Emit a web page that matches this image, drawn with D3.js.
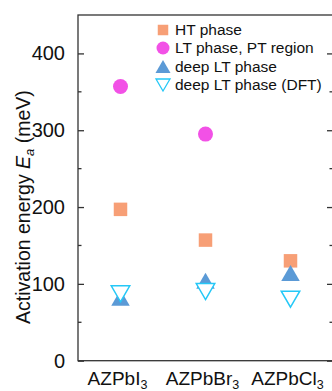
<!DOCTYPE html>
<meta charset="utf-8">
<script src="https://d3js.org/d3.v7.min.js"></script>
<style>
  body { margin: 0; background: #fff; }
  text { font-family: "Liberation Sans", Arial, sans-serif; fill: #111; }
</style>
<div id="my_dataviz"></div>
<script>

    // data
    var compounds = ["AZPbI", "AZPbBr", "AZPbCl"];
    var htPhase = [197, 157, 130];
    var ltPhase = [357, 295, null];
    var deepLT = [82, 104, 114];
    var deepLTdft = [87, 90, 80];
    var yTicks = [0, 100, 200, 300, 400];
    var legendLabels = ["HT phase", "LT phase, PT region", "deep LT phase", "deep LT phase (DFT)"];

    var colors = { ht: "#f79f76", lt: "#f251e6", deep: "#5b9ad6", dft: "#25c8f7" };

    var W = 332, H = 391;
    var margin = { top: 15, right: -1, bottom: 30, left: 78 };

    var svg = d3.select("#my_dataviz")
        .append("svg")
        .attr("width", W)
        .attr("height", H);

    var x = d3.scalePoint()
        .domain(compounds)
        .range([margin.left, W - margin.right])
        .padding(0.5);

    var y = d3.scaleLinear()
        .domain([0, 450])
        .range([H - margin.bottom - 0.3, margin.top]);

    var axisColor = "#333";

    // frame
    svg.append("rect")
        .attr("x", margin.left)
        .attr("y", margin.top)
        .attr("width", W - margin.right - margin.left)
        .attr("height", y(0) - margin.top)
        .attr("fill", "none")
        .attr("stroke", axisColor)
        .attr("stroke-width", 1.3);

    // left axis, ticks inward
    var minor = d3.range(50, 450, 100);
    var yAxisL = svg.append("g").attr("transform", "translate(" + margin.left + ",0)");
    yAxisL.call(d3.axisLeft(y).tickValues(yTicks).tickSize(-6).tickPadding(13))
    yAxisL.select(".domain").remove();
    yAxisL.selectAll("line").attr("stroke", axisColor).attr("stroke-width", 1.3);
    yAxisL.selectAll("text").style("font-size", "20px").attr("fill", "#111");
    yAxisL.append("g").selectAll("line").data(minor).enter().append("line")
        .attr("x1", 0).attr("x2", 3.5)
        .attr("y1", function (d) { return y(d); })
        .attr("y2", function (d) { return y(d); })
        .attr("stroke", axisColor).attr("stroke-width", 1.3);

    // right axis, ticks inward
    var xr = W - margin.right;
    var yAxisR = svg.append("g").attr("transform", "translate(" + xr + ",0)");
    yAxisR.call(d3.axisRight(y).tickValues(yTicks).tickSize(-6).tickFormat(""));
    yAxisR.select(".domain").remove();
    yAxisR.selectAll("line").attr("stroke", axisColor).attr("stroke-width", 1.3);
    yAxisR.append("g").selectAll("line").data(minor).enter().append("line")
        .attr("x1", 0).attr("x2", -3.5)
        .attr("y1", function (d) { return y(d); })
        .attr("y2", function (d) { return y(d); })
        .attr("stroke", axisColor).attr("stroke-width", 1.3);

    // x labels with subscript 3
    var xl = svg.append("g").selectAll("text").data(compounds).enter().append("text")
        .attr("x", function (d) { return x(d) - 3; })
        .attr("y", 384.5)
        .attr("text-anchor", "middle")
        .style("font-size", "19px");
    xl.append("tspan").text(function (d) { return d; });
    xl.append("tspan").attr("dy", 4).style("font-size", "12.5px").text("3");

    // y title
    var yt = svg.append("text")
        .attr("transform", "translate(30," + ((y(0) + y(400)) / 2) + ") rotate(-90)")
        .attr("text-anchor", "middle")
        .style("font-size", "19.5px");
    yt.append("tspan").text("Activation energy ");
    yt.append("tspan").style("font-style", "italic").text("E");
    yt.append("tspan").attr("dy", 4).style("font-size", "13px").style("font-style", "italic").text("a");
    yt.append("tspan").attr("dy", -4).text(" (meV)");

    // marker shapes
    function square(s) { return "M" + (-s / 2) + "," + (-s / 2) + "h" + s + "v" + s + "h" + (-s) + "Z"; }
    function triUp(w, h) { return "M0," + (-h / 2) + "L" + (w / 2) + "," + (h / 2) + "L" + (-w / 2) + "," + (h / 2) + "Z"; }
    function triDown(w, h) { return "M0," + (h / 2) + "L" + (w / 2) + "," + (-h / 2) + "L" + (-w / 2) + "," + (-h / 2) + "Z"; }

    function pts(vals) {
        return compounds.map(function (c, i) { return { c: c, v: vals[i] }; })
            .filter(function (d) { return d.v != null; });
    }
    function tr(d) { return "translate(" + x(d.c) + "," + y(d.v) + ")"; }

    var plot = svg.append("g");
    plot.selectAll(".ht").data(pts(htPhase)).enter().append("path")
        .attr("d", square(13.5)).attr("transform", tr).attr("fill", colors.ht);
    plot.selectAll(".lt").data(pts(ltPhase)).enter().append("circle")
        .attr("r", 7.5).attr("transform", tr).attr("fill", colors.lt);
    plot.selectAll(".deep").data(pts(deepLT)).enter().append("path")
        .attr("d", triUp(18.5, 16)).attr("transform", tr).attr("fill", colors.deep);
    plot.selectAll(".dft").data(pts(deepLTdft)).enter().append("path")
        .attr("d", triDown(18.5, 16)).attr("transform", tr)
        .attr("fill", "#fff").attr("stroke", colors.dft).attr("stroke-width", 1.5);

    // legend
    var lx = 163, ly = [30, 48, 66.5, 85];
    var lg = svg.append("g");
    lg.append("path").attr("d", square(10.5)).attr("transform", "translate(" + lx + "," + ly[0] + ")").attr("fill", colors.ht);
    lg.append("circle").attr("r", 6.5).attr("transform", "translate(" + lx + "," + ly[1] + ")").attr("fill", colors.lt);
    lg.append("path").attr("d", triUp(15, 13)).attr("transform", "translate(" + lx + "," + ly[2] + ")").attr("fill", colors.deep);
    lg.append("path").attr("d", triDown(14, 12)).attr("transform", "translate(" + lx + "," + ly[3] + ")")
        .attr("fill", "#fff").attr("stroke", colors.dft).attr("stroke-width", 1.3);
    lg.selectAll("text").data(legendLabels).enter().append("text")
        .attr("x", 175)
        .attr("y", function (d, i) { return ly[i]; })
        .attr("dy", "0.35em")
        .style("font-size", "15.5px")
        .text(function (d) { return d; });

</script>
